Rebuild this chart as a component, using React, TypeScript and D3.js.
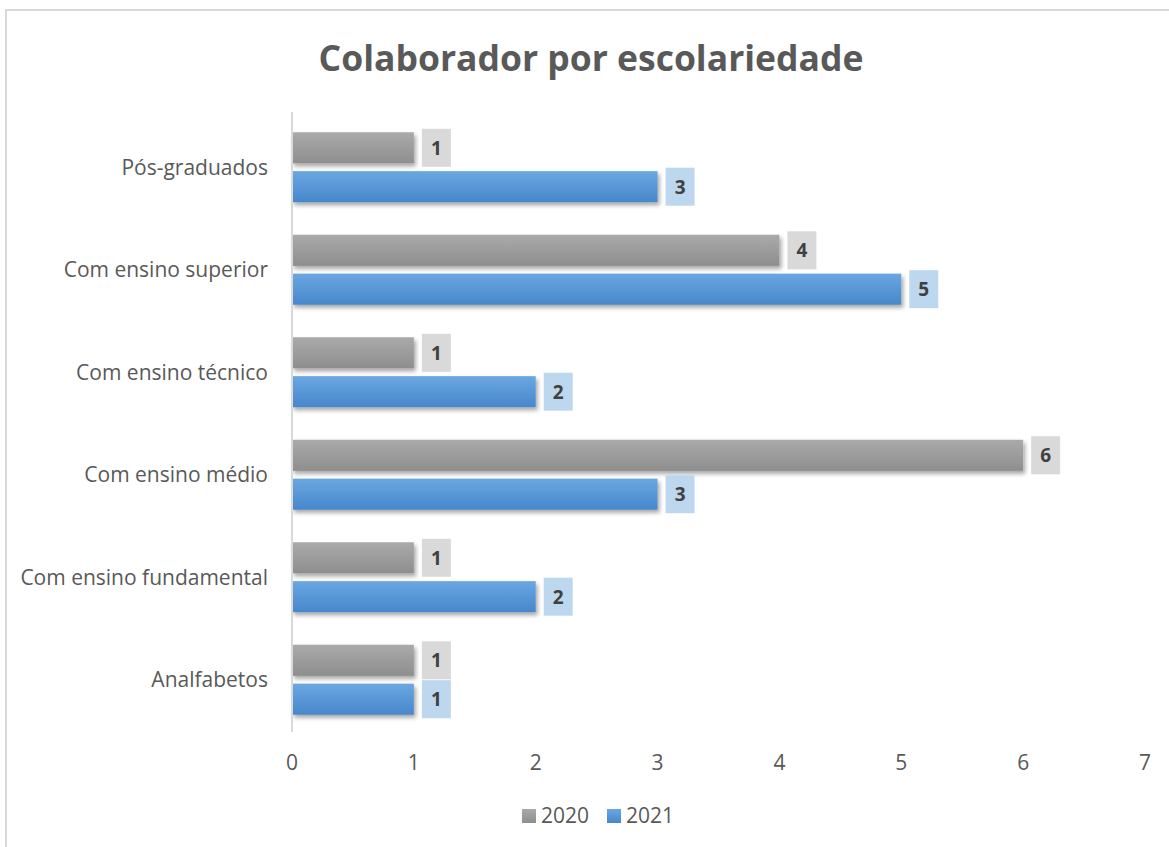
import React from 'react';
import * as d3 from 'd3';

// data
const categories = [
  'Pós-graduados',
  'Com ensino superior',
  'Com ensino técnico',
  'Com ensino médio',
  'Com ensino fundamental',
  'Analfabetos',
];
const series = ['2020', '2021'];
const values2020 = [1, 4, 1, 6, 1, 1];
const values2021 = [3, 5, 2, 3, 2, 1];
const xTicks = [0, 1, 2, 3, 4, 5, 6, 7];

const W = 1169;
const H = 847;
const FONT = '"Open Sans", sans-serif';
const TEXT = '#595959';

const seriesStyle = {
  '2020': { grad: 'g2020', top: '#aaaaaa', bottom: '#8e8e8e', label: '#d9d9d9' },
  '2021': { grad: 'g2021', top: '#6aa7e2', bottom: '#4787cb', label: '#bdd7ee' },
};

const App = () => {
  const x = d3.scaleLinear().domain([0, 7]).range([292, 1145]);
  const y = d3.scaleBand().domain(categories).range([116, 731]);
  const bw = y.bandwidth();
  const groupH = 70;
  const inner = d3
    .scaleBand()
    .domain(series)
    .range([(bw - groupH) / 2, (bw + groupH) / 2])
    .paddingInner(0.2);

  const valuesBySeries = { '2020': values2020, '2021': values2021 };

  return (
    <div style={{ position: 'absolute', left: 0, top: 0 }}>
      <svg width={W} height={H} style={{ display: 'block' }}>
        <defs>
          {series.map((s) => (
            <linearGradient key={s} id={seriesStyle[s].grad} x1="0" y1="0" x2="0" y2="1">
              <stop offset="0%" stopColor={seriesStyle[s].top} />
              <stop offset="100%" stopColor={seriesStyle[s].bottom} />
            </linearGradient>
          ))}
          <filter id="shadow" x="-5%" y="-20%" width="115%" height="160%">
            <feDropShadow dx="2" dy="3" stdDeviation="2" floodColor="#000" floodOpacity="0.35" />
          </filter>
        </defs>

        <rect x={6} y={10} width={W} height={H} fill="#fff" stroke="#d9d9d9" strokeWidth={2} />

        <text
          x={591}
          y={71}
          textAnchor="middle"
          fontFamily={FONT}
          fontWeight="bold"
          fontSize={35.5}
          fill={TEXT}
        >
          Colaborador por escolariedade
        </text>

        {/* bars */}
        {categories.map((c, i) => (
          <g key={c} transform={`translate(0,${y(c)})`}>
            {series.map((s) => {
              const v = valuesBySeries[s][i];
              const by = inner(s);
              const bh = inner.bandwidth();
              return (
                <g key={s}>
                  <rect
                    x={x(0)}
                    y={by}
                    width={x(v) - x(0)}
                    height={bh}
                    fill={`url(#${seriesStyle[s].grad})`}
                    filter="url(#shadow)"
                  />
                  <rect
                    x={x(v) + 8}
                    y={by + bh / 2 - 19}
                    width={29}
                    height={38}
                    fill={seriesStyle[s].label}
                  />
                  <text
                    x={x(v) + 22.5}
                    y={by + bh / 2}
                    dy="0.36em"
                    textAnchor="middle"
                    fontFamily={FONT}
                    fontWeight="bold"
                    fontSize={19}
                    fill="#404040"
                  >
                    {v}
                  </text>
                </g>
              );
            })}
            <text
              x={268}
              y={bw / 2}
              dy="0.36em"
              textAnchor="end"
              fontFamily={FONT}
              fontSize={21}
              fill={TEXT}
            >
              {c}
            </text>
          </g>
        ))}

        {/* vertical axis line */}
        <line x1={x(0)} x2={x(0)} y1={112} y2={732} stroke="#d9d9d9" strokeWidth={2} />

        {/* x tick labels */}
        {xTicks.map((t) => (
          <text
            key={t}
            x={x(t)}
            y={770}
            textAnchor="middle"
            fontFamily={FONT}
            fontSize={21}
            fill={TEXT}
          >
            {t}
          </text>
        ))}

        {/* legend */}
        {series.map((s, i) => {
          const lx = 522 + i * 85;
          return (
            <g key={s}>
              <rect x={lx} y={809} width={14} height={14} fill={`url(#${seriesStyle[s].grad})`} />
              <text x={lx + 19} y={823} fontFamily={FONT} fontSize={21} fill={TEXT}>
                {s}
              </text>
            </g>
          );
        })}
      </svg>
    </div>
  );
};

export default App;
